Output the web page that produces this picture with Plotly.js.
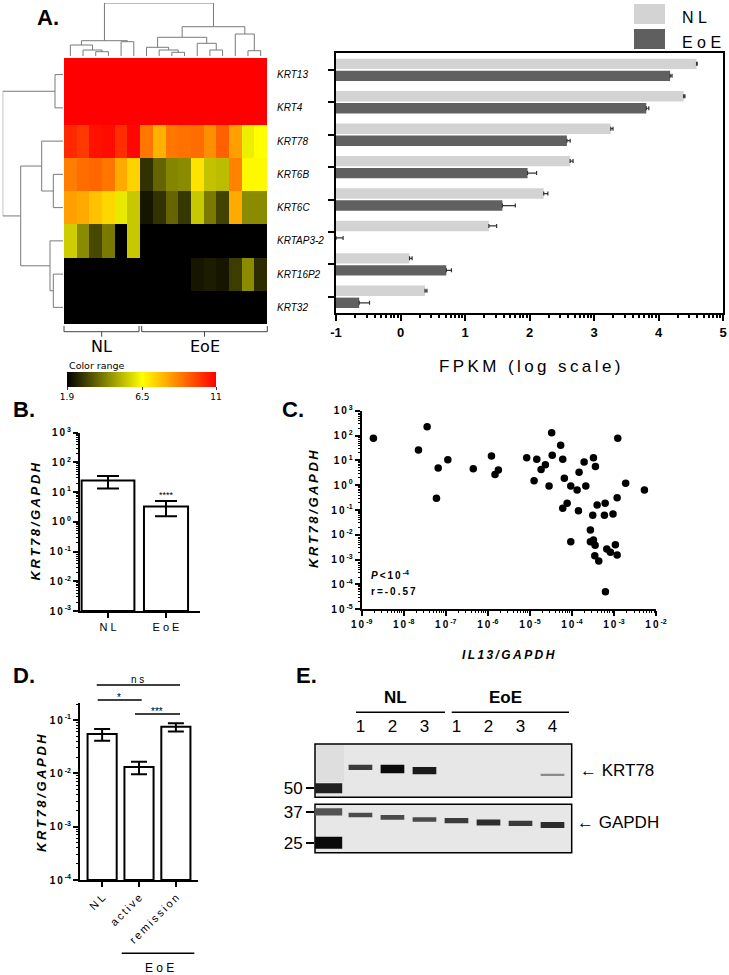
<!DOCTYPE html>
<html><head><meta charset="utf-8">
<script src="https://cdn.plot.ly/plotly-3.0.1.min.js"></script>
<style>html,body{margin:0;padding:0;background:#fff}#chart{width:729px;height:975px}</style>
</head><body><div id="chart"></div>
<script>
// ================= DATA =================
// Panel A heatmap (log2 expression, colour range 1.9 - 11), 6 NL + 10 EoE samples
const genes = ['KRT13','KRT4','KRT78','KRT6B','KRT6C','KRTAP3-2','KRT16P2','KRT32'];
const heatKRT13   = [11,11,11,11,11,11, 11,11,11,11,11,11,11,11,11,11];
const heatKRT4    = [11,11,11,11,11,11, 11,11,11,11,11,11,11,11,11,11];
const heatKRT78   = [10.3,10.0,10.7,10.8,10.2,10.9, 8.9,7.9,8.9,9.0,9.1,8.5,9.3,8.2,6.2,6.5];
const heatKRT6B   = [8.8,9.1,9.2,8.9,8.0,7.3, 2.8,3.7,4.3,4.4,7.0,5.4,5.3,8.7,6.6,6.6];
const heatKRT6C   = [8.2,8.0,7.6,7.2,6.1,5.5, 2.3,2.8,3.7,2.9,5.5,4.1,3.1,8.0,4.4,4.4];
const heatKRTAP32 = [5.6,4.4,3.2,4.1,1.9,5.5, 1.9,1.9,1.9,1.9,1.9,1.9,1.9,1.9,1.9,1.9];
const heatKRT16P2 = [1.9,1.9,1.9,1.9,1.9,1.9, 1.9,1.9,1.9,1.9,2.3,2.4,2.3,3.0,4.4,2.7];
const heatKRT32   = [1.9,1.9,1.9,1.9,1.9,1.9, 1.9,1.9,1.9,1.9,1.9,1.9,1.9,1.9,1.9,1.9];
const colorTicks  = [1.9, 6.5, 11];
// dendrograms: [height, left, right]; leaves are column / row indices
const colTree = [53, [15.3, [11, 0, [6, 1, [4.3, 2, 3]]], [14.3, 4, 5]],
                     [29.3, [18.7, [8.7, 6, [6, 7, [3.7, 8, 9]]], [12.7, 10, [6, 11, 12]]],
                            [22, 13, [5.3, 14, 15]]]];
const rowTree = [60.3, [8, 0, 1], [42.3, [21.3, 2, [9.7, 3, 4]], [13, 5, [9.7, 6, 7]]]];

// Panel A bars: FPKM (log10)
const fpkmNL     = [4.59, 4.39, 3.26, 2.63, 2.22, 1.37, 0.14, 0.38];
const fpkmNLerr  = [0.01, 0.02, 0.035, 0.045, 0.065, 0.12, 0.04, 0.03];
const fpkmEoE    = [4.18, 3.81, 2.58, 1.97, 1.58, -1.0, 0.71, -0.64];
const fpkmEoEerr = [0.03, 0.04, 0.05, 0.14, 0.20, 0.11, 0.08, 0.16];
const fpkmTicks  = [-1, 0, 1, 2, 3, 4, 5];

// Panel B: KRT78/GAPDH qPCR
const bGroups = ['N L', 'E o E'];
const bMean = [24.5, 3.27];
const bHi   = [35, 5.0];
const bLo   = [13.2, 1.55];

// Panel C: IL13/GAPDH vs KRT78/GAPDH
const il13 = [1.9e-9, 2.24e-8, 3.6e-8, 6.0e-8, 6.6e-8, 1.12e-7, 4.5e-7, 1.22e-6, 1.48e-6, 1.78e-6,
              8.4e-6, 1.26e-5, 1.46e-5, 1.85e-5, 2.34e-5, 2.86e-5, 3.3e-5, 3.4e-5, 5.4e-5, 6.05e-5,
              6.05e-5, 6.6e-5, 7.7e-5, 9.4e-5, 9.4e-5, 1.33e-4, 1.43e-4, 1.48e-4, 1.95e-4, 2.14e-4,
              2.75e-4, 2.75e-4, 3.13e-4, 3.25e-4, 3.25e-4, 3.5e-4, 3.56e-4, 3.63e-4, 3.98e-4, 4.35e-4,
              5.93e-4, 6.17e-4, 6.27e-4, 6.75e-4, 8.24e-4, 9.5e-4, 1.08e-3, 1.19e-3, 1.19e-3, 1.23e-3,
              1.9e-3, 5.3e-3];
const krt78 = [77, 26, 227, 0.30, 4.9, 10.6, 4.6, 14.9, 2.7, 4.1,
               12.8, 1.5, 11, 4.3, 6.7, 0.92, 130, 15.9, 41, 11,
               0.117, 1.9, 0.185, 0.92, 0.0053, 0.64, 0.094, 3.3, 8.6, 0.92,
               0.0157, 0.0053, 0.061, 12.8, 0.0062, 0.00145, 0.0038, 5.7, 0.159, 0.00088,
               0.061, 0.185, 5.1e-5, 0.0027, 0.00197, 0.069, 0.0040, 0.00154, 0.314, 77,
               1.19, 0.64];

// Panel D: KRT78/GAPDH by disease state
const dGroups = ['N L', 'active', 'remission'];
const dMean = [0.055, 0.0132, 0.075];
const dHi   = [0.068, 0.0165, 0.087];
const dLo   = [0.041, 0.0096, 0.061];

// Panel E: western blot (apparent kDa and relative band signal per lane)
const blotLanes   = ['1','2','3','1','2','3','4'];
const krt78Kda    = [65.3, 64.0, 62.6, null, null, null, 59.3];
const krt78Signal = [0.55, 1.0, 0.8, 0, 0, 0, 0.1];
const gapdhKda    = [35.6, 34.5, 33.6, 33.1, 32.3, 32.0, 31.3];
const gapdhSignal = [0.45, 0.45, 0.45, 0.55, 0.65, 0.55, 0.65];
const ladderKda   = [50, 37, 25];
const ladderSignal= [0.75, 0.4, 1.0];

// ================= HELPERS =================
const W = 729, H = 975;
const PX = x => x / W, PY = y => 1 - y / H;
const FONT = 'Liberation Sans, Arial, sans-serif';
const TAH = 'DejaVu Sans, Verdana, sans-serif';
const sp = s => s.split('').join('\u2009');
const expLabel = k => '<b>1\u20090\u2009<sup>' + (k < 0 ? '-' : '') + Math.abs(k) + '</sup></b>';
function T(text, x, y, size, o) {
  return Object.assign({text, x: PX(x), y: PY(y), xref: 'paper', yref: 'paper', showarrow: false,
    xanchor: 'center', yanchor: 'middle', font: {family: FONT, size: size, color: '#000'}}, o || {});
}
function L(x0, y0, x1, y1, w, c) {
  return {type: 'line', xref: 'paper', yref: 'paper', x0: PX(x0), y0: PY(y0), x1: PX(x1), y1: PY(y1),
    line: {color: c || '#000', width: w || 1.5}};
}
function R(x0, y0, x1, y1, fill, lw, layer) {
  return {type: 'rect', xref: 'paper', yref: 'paper', x0: PX(x0), y0: PY(y0), x1: PX(x1), y1: PY(y1),
    fillcolor: fill, line: {color: '#000', width: lw || 0}, layer: layer || 'above'};
}
function dendroXY(tree, orient) {
  const xs = [], ys = [];
  (function walk(n) {
    if (typeof n === 'number') return {p: n, h: 0};
    const a = walk(n[1]), b = walk(n[2]);
    [[a.p, a.h], [a.p, n[0]], [b.p, n[0]], [b.p, b.h]].forEach(([p, h]) => {
      if (orient === 'top') { xs.push(p); ys.push(h); } else { xs.push(h); ys.push(p); }
    });
    xs.push(null); ys.push(null);
    return {p: (a.p + b.p) / 2, h: n[0]};
  })(tree);
  return {xs, ys};
}
const logMinor = (k0, k1) => { const v = []; for (let k = k0; k < k1; k++) for (let m = 2; m <= 9; m++) v.push(m * Math.pow(10, k)); return v; };
const linLogMinor = (k0, k1) => { const v = []; for (let k = k0; k < k1; k++) for (let m = 2; m <= 9; m++) v.push(k + Math.log10(m)); return v; };
const decades = (k0, k1) => { const v = []; for (let k = k0; k <= k1; k++) v.push(k); return v; };

// ================= TRACES =================
const traces = [];
const heatZ = [heatKRT13, heatKRT4, heatKRT78, heatKRT6B, heatKRT6C, heatKRTAP32, heatKRT16P2, heatKRT32];
const zmin = colorTicks[0], zmax = colorTicks[2];
traces.push({
  type: 'heatmap', z: heatZ, x: heatKRT13.map((_, i) => i), y: genes.map((_, i) => i),
  xaxis: 'x', yaxis: 'y', zmin, zmax, hoverinfo: 'skip',
  colorscale: [[0, '#000000'], [(colorTicks[1] - zmin) / (zmax - zmin), '#ffff00'], [1, '#ff0000']],
  colorbar: {orientation: 'h', x: PX(141.5), xanchor: 'center', y: PY(371.7), yanchor: 'top',
    len: 149, lenmode: 'pixels', thickness: 15, thicknessmode: 'pixels', outlinewidth: 0,
    xpad: 0, ypad: 0, tickvals: colorTicks, ticktext: colorTicks.map(String), ticks: 'outside',
    ticklen: 3, tickcolor: '#333', tickfont: {family: TAH, size: 9, color: '#000'}}
});
const cd = dendroXY(colTree, 'top');
traces.push({type: 'scatter', mode: 'lines', x: cd.xs, y: cd.ys, xaxis: 'x7', yaxis: 'y7',
  line: {color: '#7a7a7a', width: 1}, hoverinfo: 'skip'});
const rd = dendroXY(rowTree, 'left');
traces.push({type: 'scatter', mode: 'lines', x: rd.xs, y: rd.ys, xaxis: 'x8', yaxis: 'y8',
  line: {color: '#7a7a7a', width: 1}, hoverinfo: 'skip'});

const A0 = fpkmTicks[0];
traces.push({type: 'bar', orientation: 'h', name: 'NL', xaxis: 'x2', yaxis: 'y2',
  y: genes.map((_, i) => i - 0.185), x: fpkmNL.map(v => v - A0), base: A0, width: 0.32,
  marker: {color: '#d3d3d3', line: {width: 0}},
  error_x: {type: 'data', symmetric: false, array: fpkmNLerr, arrayminus: fpkmNL.map(() => 0),
    color: '#333', thickness: 1.2, width: 2}});
traces.push({type: 'bar', orientation: 'h', name: 'EoE', xaxis: 'x2', yaxis: 'y2',
  y: genes.map((_, i) => i + 0.185), x: fpkmEoE.map(v => v - A0), base: A0, width: 0.32,
  marker: {color: '#606060', line: {width: 0}},
  error_x: {type: 'data', symmetric: false, array: fpkmEoEerr, arrayminus: fpkmEoE.map(() => 0),
    color: '#333', thickness: 1.2, width: 2}});

const B0 = 1e-3;
traces.push({type: 'bar', xaxis: 'x3', yaxis: 'y3', x: bGroups.map((_, i) => i), y: bMean.map(v => v - B0),
  base: B0, width: [0.91, 0.76], marker: {color: '#fff', line: {color: '#000', width: 2}},
  error_y: {type: 'data', symmetric: false, array: bHi.map((h, i) => h - bMean[i]),
    arrayminus: bLo.map((l, i) => bMean[i] - l), color: '#000', thickness: 2, width: 11}});

traces.push({type: 'scatter', mode: 'markers', xaxis: 'x4', yaxis: 'y4', x: il13, y: krt78,
  marker: {color: '#000', size: 7.5}});

const D0 = 1e-4;
traces.push({type: 'bar', xaxis: 'x5', yaxis: 'y5', x: dGroups.map((_, i) => i), y: dMean.map(v => v - D0),
  base: D0, width: 0.79, marker: {color: '#fff', line: {color: '#000', width: 2}},
  error_y: {type: 'data', symmetric: false, array: dHi.map((h, i) => h - dMean[i]),
    arrayminus: dLo.map((l, i) => dMean[i] - l), color: '#000', thickness: 2, width: 8}});

function band(lane, kda, s, half, thick) {
  if (kda === null || s <= 0) return;
  const g = Math.round(150 * Math.pow(1 - s, 1.4) + 10);
  traces.push({type: 'scatter', mode: 'lines', xaxis: 'x6', yaxis: 'y6', x: [lane - half, lane + half], y: [kda, kda],
    line: {color: 'rgb(' + g + ',' + g + ',' + g + ')', width: thick}, hoverinfo: 'skip'});
}
ladderKda.forEach((k, i) => band(0, k, ladderSignal[i], 0.43, 4 + 8 * ladderSignal[i]));
krt78Kda.forEach((k, i) => band(i + 1, k, krt78Signal[i], 0.37, 1.5 + 7 * krt78Signal[i]));
gapdhKda.forEach((k, i) => band(i + 1, k, gapdhSignal[i], 0.37, 1.5 + 7 * gapdhSignal[i]));

// invisible carrier traces (one transparent point each, reusing existing data) so the minor-tick overlay axes exist
[['x9', 'y2', fpkmNL[0], 0], ['x3', 'y10', 0, bMean[0]], ['x11', 'y4', il13[0], krt78[0]],
 ['x4', 'y12', il13[0], krt78[0]], ['x5', 'y13', 0, dMean[0]]].forEach(([xa, ya, xv, yv]) =>
  traces.push({type: 'scatter', mode: 'markers', x: [xv], y: [yv], xaxis: xa, yaxis: ya,
    marker: {opacity: 0, size: 1}, hoverinfo: 'skip'}));

// ================= LAYOUT =================
const hidden = {visible: false, showgrid: false, zeroline: false, fixedrange: true};
const logAx = (k0, k1, top) => ({
  type: 'log', range: [k0, top], tickmode: 'array', tickvals: decades(k0, k1).map(k => Math.pow(10, k)),
  ticktext: decades(k0, k1).map(expLabel), ticks: 'outside', ticklen: 5, tickwidth: 2, tickcolor: '#000',
  showline: true, linewidth: 2, linecolor: '#000', showgrid: false, zeroline: false,
  tickfont: {family: FONT, size: 10, color: '#000'}
});
const minorAx = (over, anchor, side, type, range, vals, len, w) => ({
  overlaying: over, anchor: anchor, side: side, type: type, range: range, tickmode: 'array', tickvals: vals,
  ticks: 'outside', ticklen: len, tickwidth: w, tickcolor: '#000', showticklabels: false,
  showline: false, showgrid: false, zeroline: false
});

const layout = {
  width: W, height: H, margin: {l: 0, r: 0, t: 0, b: 0}, paper_bgcolor: '#fff', plot_bgcolor: 'rgba(0,0,0,0)',
  showlegend: false, font: {family: FONT, color: '#000'},
  // heatmap
  xaxis: Object.assign({}, hidden, {domain: [PX(64), PX(267)], range: [-0.5, 15.5], anchor: 'y'}),
  yaxis: {domain: [PY(324), PY(58)], range: [7.5, -0.5], anchor: 'x', side: 'right', tickmode: 'array',
    tickvals: genes.map((_, i) => i), ticktext: genes.map(g => '<i>' + g + '</i>'), ticks: 'outside',
    ticklen: 7, tickcolor: 'rgba(0,0,0,0)', showgrid: false, zeroline: false, showline: false,
    tickfont: {family: FONT, size: 10, color: '#000'}},
  xaxis7: Object.assign({}, hidden, {domain: [PX(64), PX(267)], range: [-0.5, 15.5], anchor: 'y7'}),
  yaxis7: Object.assign({}, hidden, {domain: [PY(56), PY(3)], range: [0, 53], anchor: 'x7'}),
  xaxis8: Object.assign({}, hidden, {domain: [PX(2.7), PX(63)], range: [60.3, 0], anchor: 'y8'}),
  yaxis8: Object.assign({}, hidden, {domain: [PY(324), PY(58)], range: [7.5, -0.5], anchor: 'x8'}),
  // bar chart A
  xaxis2: {domain: [PX(336), PX(723)], anchor: 'y2', range: [fpkmTicks[0], fpkmTicks[fpkmTicks.length - 1]],
    tickmode: 'array', tickvals: fpkmTicks, ticktext: fpkmTicks.map(v => '<b>' + v + '</b>'),
    ticks: 'outside', ticklen: 6, tickwidth: 2, tickcolor: '#000', showline: true, linewidth: 2, linecolor: '#000',
    mirror: true, showgrid: false, zeroline: false, tickfont: {family: FONT, size: 13, color: '#000'}},
  xaxis9: minorAx('x2', 'y2', 'bottom', 'linear', [fpkmTicks[0], fpkmTicks[fpkmTicks.length - 1]], linLogMinor(-1, 5), 4, 2),
  yaxis2: {domain: [PY(313), PY(53)], anchor: 'x2', range: [7.5, -0.52], tickmode: 'array',
    tickvals: genes.map((_, i) => i), showticklabels: false, ticks: 'outside', ticklen: 6, tickwidth: 2,
    tickcolor: '#000', showline: true, linewidth: 2, linecolor: '#000', mirror: true, showgrid: false, zeroline: false},
  // B
  xaxis3: {domain: [PX(80), PX(200)], anchor: 'y3', range: [-0.483, 1.586], tickmode: 'array',
    tickvals: bGroups.map((_, i) => i), ticktext: bGroups, ticks: 'outside', ticklen: 5, tickwidth: 2, tickcolor: '#000',
    showline: true, linewidth: 2, linecolor: '#000', showgrid: false, zeroline: false,
    tickfont: {family: FONT, size: 11, color: '#000'}},
  yaxis3: Object.assign(logAx(-3, 3, 3), {domain: [PY(611), PY(432.7)], anchor: 'x3'}),
  yaxis10: minorAx('y3', 'x3', 'left', 'log', [-3, 3], logMinor(-3, 3), 3, 1),
  // C
  xaxis4: Object.assign(logAx(-9, -2, -2), {domain: [PX(361.7), PX(656)], anchor: 'y4'}),
  yaxis4: Object.assign(logAx(-5, 3, 3), {domain: [PY(609.3), PY(410.7)], anchor: 'x4'}),
  xaxis11: minorAx('x4', 'y4', 'bottom', 'log', [-9, -2], logMinor(-9, -2), 3, 1),
  yaxis12: minorAx('y4', 'x4', 'left', 'log', [-5, 3], logMinor(-5, 3), 3, 1),
  // D
  xaxis5: {domain: [PX(80), PX(198)], anchor: 'y5', range: [-0.6, 2.6], tickmode: 'array',
    tickvals: dGroups.map((_, i) => i), ticktext: dGroups.map(g => g.indexOf(' ') >= 0 ? g : sp(g)), tickangle: -45,
    ticks: 'outside', ticklen: 5, tickwidth: 2, tickcolor: '#000', showline: true, linewidth: 2, linecolor: '#000',
    showgrid: false, zeroline: false, tickfont: {family: FONT, size: 11, color: '#000'}},
  yaxis5: Object.assign(logAx(-4, -1, -0.685), {domain: [PY(880), PY(703.3)], anchor: 'x5'}),
  yaxis13: minorAx('y5', 'x5', 'left', 'log', [-4, -0.685], logMinor(-4, 0), 3, 1),
  // E blot
  xaxis6: {domain: [PX(315), PX(571.7)], anchor: 'y6', range: [-0.42, 7.6], side: 'top', tickmode: 'array',
    tickvals: blotLanes.map((_, i) => i + 1), ticktext: blotLanes, ticks: 'outside', ticklen: 4,
    tickcolor: 'rgba(0,0,0,0)', showline: false, showgrid: false, zeroline: false,
    tickfont: {family: FONT, size: 17, color: '#000'}},
  yaxis6: {domain: [PY(852.7), PY(744)], anchor: 'x6', type: 'log', range: [1.3426, 1.9441], tickmode: 'array',
    tickvals: ladderKda, ticktext: ladderKda.map(String), ticks: 'outside', ticklen: 8, tickwidth: 1.5,
    tickcolor: '#000', showline: false, showgrid: false, zeroline: false,
    tickfont: {family: FONT, size: 17, color: '#000'}},
  shapes: [
    // heatmap group brackets
    L(64, 326, 64, 331.7, 1, '#444'), L(64, 331.7, 139, 331.7, 1, '#444'), L(139, 326, 139, 331.7, 1, '#444'), L(101.7, 331.7, 101.7, 336.7, 1, '#444'),
    L(141.7, 326, 141.7, 331.7, 1, '#444'), L(141.7, 331.7, 267.3, 331.7, 1, '#444'), L(267.3, 326, 267.3, 331.7, 1, '#444'), L(204.5, 331.7, 204.5, 336.7, 1, '#444'),
    // legend swatches A
    R(634, 4, 665, 24, '#d3d3d3'), R(634, 29, 665, 49, '#5f5f5f'),
    // D significance bars and EoE group line
    L(96.7, 685, 180, 685), L(97.7, 700, 141.7, 700), L(135, 714, 180, 714), L(121.7, 953.3, 194.3, 953.3),
    // E blot membranes and group lines
    R(315, 744, 571.7, 797.3, '#e7e7e7', 1.5, 'below'), R(315, 804.3, 571.7, 852.7, '#e7e7e7', 1.5, 'below'),
    R(316.5, 745, 344, 782, '#dedede', 0, 'below'),
    L(356, 712.3, 445, 712.3, 1.5), L(451.7, 712.3, 569, 712.3, 1.5)
  ],
  annotations: [
    T('<b>A.</b>', 48, 18, 22), T('<b>B.</b>', 24, 409, 22), T('<b>C.</b>', 293, 409, 22),
    T('<b>D.</b>', 24, 675, 22), T('<b>E.</b>', 306, 675, 22),
    // heatmap
    T('NL', 101.7, 346.7, 16, {font: {family: TAH, size: 16, color: '#000'}}),
    T('EoE', 204.5, 346.7, 16, {font: {family: TAH, size: 16, color: '#000'}}),
    T('Color range', 67, 365, 9.5, {xanchor: 'left', font: {family: TAH, size: 9.5, color: '#000'}}),
    // A
    T('N L', 680, 18, 16, {xanchor: 'left'}), T('E o E', 680, 43, 16, {xanchor: 'left'}),
    T(sp('FPKM (log scale)'), 529.5, 366, 17),
    // B
    T('<b><i>' + sp('KRT78/GAPDH') + '</i></b>', 35, 521.5, 13, {textangle: -90}),
    T('****', 166, 495, 9),
    // C
    T('<b><i>' + sp('KRT78/GAPDH') + '</i></b>', 313, 509, 13, {textangle: -90}),
    T('<b><i>' + sp('IL13/GAPDH') + '</i></b>', 508, 655, 12),
    T('<b><i>P</i>\u2009&lt;\u20091\u20090\u2009<sup>-4</sup></b>', 369, 575, 10, {xanchor: 'left'}),
    T('<b>' + sp('r=-0.57') + '</b>', 369, 591.7, 10, {xanchor: 'left'}),
    // D
    T('<b><i>' + sp('KRT78/GAPDH') + '</i></b>', 41, 793, 13, {textangle: -90}),
    T('n s', 137.7, 679, 10), T('*', 119, 697, 10), T('***', 157, 711, 10),
    T('E o E', 159, 968, 12),
    // E
    T('<b>NL</b>', 395, 697, 17), T('<b>EoE</b>', 505, 697, 17),
    T('\u2190 KRT78', 578, 770, 17, {xanchor: 'left'}),
    T('\u2190 GAPDH', 575, 822.7, 17, {xanchor: 'left'})
  ]
};

Plotly.newPlot('chart', traces, layout, {displayModeBar: false});
</script>
</body></html>
